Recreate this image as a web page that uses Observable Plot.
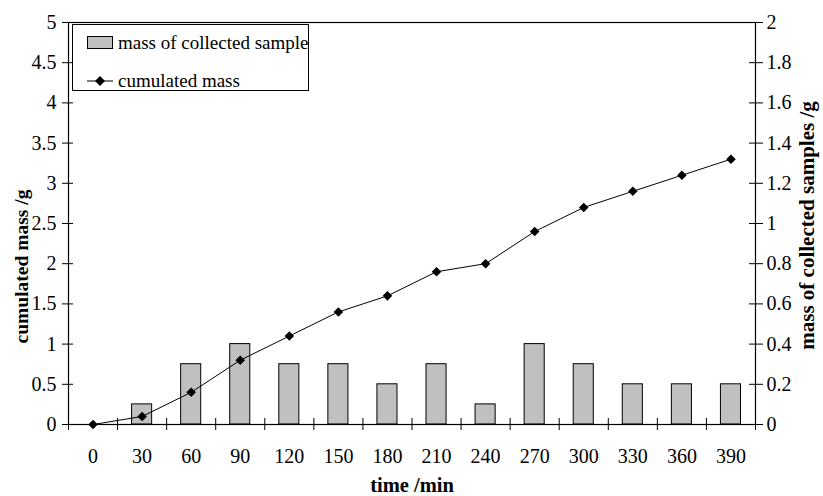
<!DOCTYPE html>
<html>
<head>
<meta charset="utf-8">
<script src="https://cdn.jsdelivr.net/npm/d3@7"></script>
<script src="https://cdn.jsdelivr.net/npm/@observablehq/plot@0.6"></script>
<style>
  html, body { margin: 0; padding: 0; background: #fff; }
  #wrap { position: relative; width: 823px; height: 496px; font-family: "Liberation Serif", "Times New Roman", serif; }
  #legend { position: absolute; left: 72px; top: 24px; width: 237px; height: 67px; border: 1px solid #000; background: #fff; font-size: 19px; color: #000; box-sizing: border-box; }
  .row { position: absolute; left: 0; height: 22px; display: flex; align-items: center; }
  .sw { position: absolute; left: 14px; width: 26px; height: 13px; background: #c0c0c0; border: 1px solid #000; box-sizing: border-box; }
  .lbl { position: absolute; left: 45px; white-space: nowrap; line-height: 22px; }
</style>
</head>
<body>
<div id="wrap"></div>
<script>
const times = [0, 30, 60, 90, 120, 150, 180, 210, 240, 270, 300, 330, 360, 390];
const sampleTimes = [30, 60, 90, 120, 150, 180, 210, 240, 270, 300, 330, 360, 390];
const sampleMass = [0.1, 0.3, 0.4, 0.3, 0.3, 0.2, 0.3, 0.1, 0.4, 0.3, 0.2, 0.2, 0.2];
const cumulatedMass = [0, 0.1, 0.4, 0.8, 1.1, 1.4, 1.6, 1.9, 2.0, 2.4, 2.7, 2.9, 3.1, 3.3];
const leftTicks = [0, 0.5, 1, 1.5, 2, 2.5, 3, 3.5, 4, 4.5, 5];
const rightTicks = [0, 0.2, 0.4, 0.6, 0.8, 1, 1.2, 1.4, 1.6, 1.8, 2];
const xBoundaries = [-15, 15, 45, 75, 105, 135, 165, 195, 225, 255, 285, 315, 345, 375, 405];
const ratio = 2.5; // left axis units per right axis unit

const bars = sampleTimes.map((t, i) => ({t, m: sampleMass[i]}));
const cum = times.map((t, i) => ({t, c: cumulatedMass[i]}));
const rightScaled = rightTicks.map(v => v * ratio);

const chart = Plot.plot({
  width: 823,
  height: 496,
  marginLeft: 68,
  marginRight: 68,
  marginTop: 22,
  marginBottom: 72,
  style: {fontFamily: "'Liberation Serif', 'Times New Roman', serif", fontSize: "20px", color: "#000", background: "#fff"},
  x: {type: "linear", domain: [-15, 405]},
  y: {domain: [0, 5]},
  marks: [
    Plot.rectY(bars, {x1: d => d.t - 15, x2: d => d.t + 15, y: d => d.m * ratio, insetLeft: 14.5, insetRight: 14.5, fill: "#c0c0c0", stroke: "#000", strokeWidth: 1}),
    Plot.frame({stroke: "#000", strokeWidth: 1.2}),
    // left axis
    Plot.axisY({anchor: "left", ticks: leftTicks, tickSize: 6, tickPadding: 6, tickFormat: d => String(d), label: null}),
    Plot.axisY({anchor: "left", ticks: leftTicks, tickSize: 5, dx: 5, tickFormat: () => "", label: null}),
    // right axis
    Plot.axisY({anchor: "right", ticks: rightScaled, tickSize: 7, tickPadding: 4, tickFormat: d => String(+(d / ratio).toFixed(1)), label: null}),
    Plot.axisY({anchor: "right", ticks: rightScaled, tickSize: 7, dx: -7, tickFormat: () => "", label: null}),
    // bottom axis ticks at category boundaries
    Plot.axisX({anchor: "bottom", ticks: xBoundaries, tickSize: 6, tickFormat: () => "", label: null}),
    Plot.axisX({anchor: "bottom", ticks: xBoundaries, tickSize: 6, dy: -6, tickFormat: () => "", label: null}),
    Plot.axisX({anchor: "bottom", ticks: times, tickSize: 0, tickPadding: 24, tickFormat: d => String(d), label: null}),
    // series line
    Plot.line(cum, {x: "t", y: "c", stroke: "#000", strokeWidth: 1}),
    Plot.dot(cum, {x: "t", y: "c", symbol: "diamond2", r: 4.3, fill: "#000", stroke: "none"}),
    // axis titles
    Plot.text(["time /min"], {frameAnchor: "bottom", dy: 67, textAnchor: "middle", text: d => d, fontWeight: "bold", fontSize: 20.5}),
    Plot.text(["cumulated mass /g"], {frameAnchor: "left", dx: -47, dy: 43, textAnchor: "middle", rotate: -90, text: d => d, fontWeight: "bold", fontSize: 19.5}),
    Plot.text(["mass of collected samples /g"], {frameAnchor: "right", dx: 52, dy: 2, textAnchor: "middle", rotate: -90, text: d => d, fontWeight: "bold", fontSize: 21})
  ]
});

const wrap = document.getElementById("wrap");
wrap.appendChild(chart);

const legend = document.createElement("div");
legend.id = "legend";
legend.innerHTML = `
  <div class="row" style="top:7px;width:100%"><span class="sw" style="top:4px"></span><span class="lbl">mass of collected sample</span></div>
  <div class="row" style="top:45px;width:100%">
    <svg width="44" height="22" style="position:absolute;left:14px;top:0">
      <line x1="0" y1="11" x2="26" y2="11" stroke="#000" stroke-width="1"></line>
      <path d="M13,6 L18,11 L13,16 L8,11 Z" fill="#000"></path>
    </svg>
    <span class="lbl">cumulated mass</span></div>`;
wrap.appendChild(legend);
chart.style.position = "absolute";
chart.style.left = "0";
chart.style.top = "0";
</script>
</body>
</html>
